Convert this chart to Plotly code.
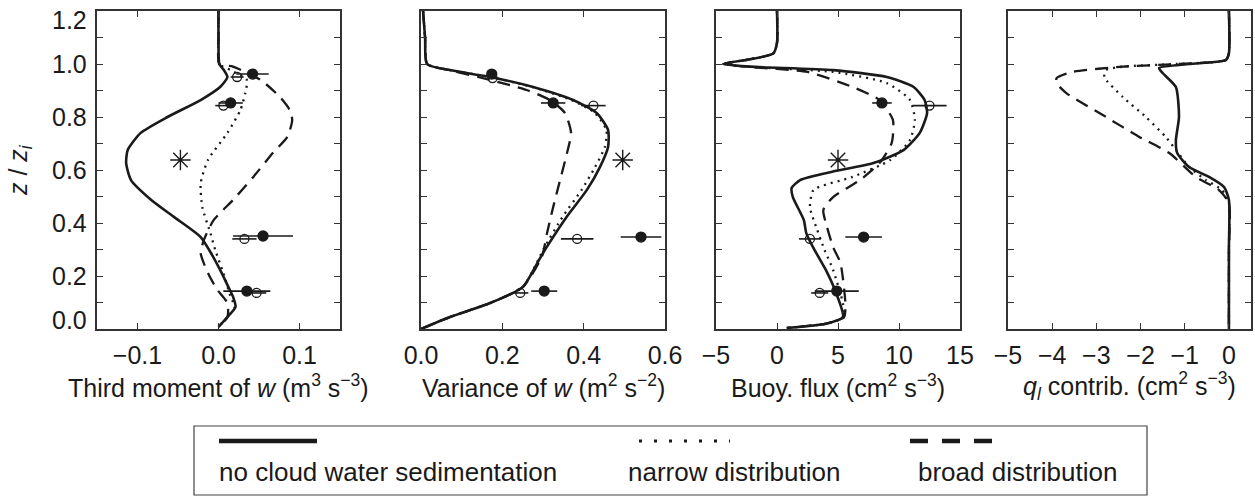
import plotly.graph_objects as go

# ---------------- data ----------------
# Panel 1: third moment of w (m3 s-3)
tm_solid_z = [1.2, 1.1, 1.0, 0.98, 0.951, 0.913, 0.864, 0.80, 0.74, 0.676, 0.626, 0.562, 0.487, 0.423, 0.347, 0.28, 0.223, 0.16, 0.121, 0.083, 0.045, 0.008]
tm_solid_x = [0.0, 0.0, 0.001, 0.006, 0.011, 0.002, -0.022, -0.063, -0.096, -0.112, -0.114, -0.108, -0.083, -0.055, -0.022, -0.008, 0.002, 0.012, 0.018, 0.021, 0.011, 0.0]
tm_dot_z = [1.2, 1.1, 1.0, 0.977, 0.94, 0.89, 0.826, 0.74, 0.638, 0.55, 0.46, 0.362, 0.298, 0.211, 0.121, 0.083, 0.045, 0.008]
tm_dot_x = [0.0, 0.0, 0.001, 0.015, 0.035, 0.033, 0.027, 0.011, -0.013, -0.022, -0.02, -0.01, -0.004, 0.006, 0.015, 0.02, 0.011, 0.0]
tm_dash_z = [1.2, 1.1, 1.0, 0.99, 0.94, 0.875, 0.826, 0.789, 0.725, 0.664, 0.574, 0.487, 0.411, 0.336, 0.286, 0.211, 0.15, 0.098, 0.045, 0.008]
tm_dash_x = [0.0, 0.0, 0.001, 0.018, 0.052, 0.076, 0.088, 0.091, 0.085, 0.067, 0.043, 0.018, -0.006, -0.018, -0.022, -0.013, -0.002, 0.011, 0.011, 0.0]
tm_obs_filled_z = [0.962, 0.853, 0.351, 0.143]
tm_obs_filled_x = [0.042, 0.015, 0.055, 0.035]
tm_obs_filled_err = [0.02, 0.015, 0.037, 0.029]
tm_obs_open_z = [0.951, 0.843, 0.34, 0.136]
tm_obs_open_x = [0.023, 0.006, 0.032, 0.047]
tm_obs_open_err = [0.008, 0.01, 0.015, 0.012]
tm_star_z = [0.638]
tm_star_x = [-0.047]

# Panel 2: variance of w (m2 s-2)
var_solid_z = [1.2, 1.1, 1.0, 0.977, 0.951, 0.913, 0.864, 0.815, 0.751, 0.687, 0.611, 0.525, 0.423, 0.309, 0.26, 0.158, 0.098, 0.045, 0.0]
var_solid_x = [0.005, 0.01, 0.015, 0.071, 0.17, 0.276, 0.374, 0.432, 0.46, 0.46, 0.44, 0.408, 0.358, 0.309, 0.29, 0.25, 0.17, 0.071, 0.0]
var_dot_z = [1.2, 1.1, 1.0, 0.977, 0.951, 0.913, 0.864, 0.815, 0.751, 0.687, 0.611, 0.525, 0.423, 0.309, 0.26, 0.158, 0.098, 0.045, 0.0]
var_dot_x = [0.005, 0.01, 0.015, 0.071, 0.17, 0.274, 0.37, 0.428, 0.456, 0.452, 0.428, 0.395, 0.348, 0.304, 0.288, 0.25, 0.17, 0.071, 0.0]
var_dash_z = [1.2, 1.1, 1.0, 0.977, 0.94, 0.902, 0.864, 0.815, 0.74, 0.664, 0.562, 0.46, 0.362, 0.272, 0.158, 0.098, 0.045, 0.0]
var_dash_x = [0.005, 0.01, 0.015, 0.07, 0.17, 0.26, 0.317, 0.354, 0.369, 0.359, 0.342, 0.325, 0.31, 0.297, 0.25, 0.17, 0.071, 0.0]
var_obs_filled_z = [0.962, 0.853, 0.347, 0.143]
var_obs_filled_x = [0.174, 0.325, 0.541, 0.303]
var_obs_filled_err = [0.0, 0.03, 0.05, 0.032]
var_obs_open_z = [0.947, 0.843, 0.34, 0.136]
var_obs_open_x = [0.176, 0.424, 0.384, 0.244]
var_obs_open_err = [0.0, 0.03, 0.04, 0.02]
var_star_z = [0.638]
var_star_x = [0.496]

# Panel 3: buoyancy flux (cm2 s-3)
bf_solid_z = [1.2, 1.08, 1.04, 1.018, 1.0, 0.99, 0.977, 0.951, 0.913, 0.864, 0.815, 0.74, 0.676, 0.626, 0.594, 0.562, 0.532, 0.498, 0.411, 0.362, 0.309, 0.272, 0.223, 0.147, 0.045, 0.02, 0.004]
bf_solid_x = [0.0, 0.0, -0.3, -2.2, -4.4, -2.2, 4.6, 9.0, 11.2, 12.1, 12.3, 11.7, 10.4, 7.9, 4.6, 1.9, 1.2, 1.3, 2.2, 2.4, 2.95, 3.4, 4.0, 4.75, 5.4, 4.0, 0.8]
bf_dot_z = [1.2, 1.08, 1.04, 1.018, 1.0, 0.99, 0.97, 0.928, 0.864, 0.789, 0.713, 0.638, 0.574, 0.525, 0.46, 0.374, 0.298, 0.223, 0.098, 0.045, 0.02, 0.004]
bf_dot_x = [0.0, 0.0, -0.3, -2.2, -4.4, -2.5, 4.6, 9.0, 10.9, 11.3, 10.9, 9.3, 6.2, 3.0, 2.7, 3.3, 3.9, 4.6, 5.4, 5.5, 4.0, 0.8]
bf_dash_z = [1.2, 1.08, 1.04, 1.018, 1.0, 0.99, 0.97, 0.913, 0.864, 0.789, 0.702, 0.626, 0.562, 0.498, 0.449, 0.385, 0.309, 0.249, 0.098, 0.045, 0.02, 0.004]
bf_dash_x = [0.0, 0.0, -0.3, -2.2, -4.4, -2.6, 2.5, 6.2, 8.4, 9.5, 9.4, 8.4, 6.8, 4.6, 3.8, 4.1, 4.6, 5.2, 5.6, 5.5, 4.0, 0.8]
bf_obs_filled_z = [0.853, 0.347, 0.143]
bf_obs_filled_x = [8.6, 7.1, 4.9]
bf_obs_filled_err = [0.8, 1.5, 1.8]
bf_obs_open_z = [0.843, 0.34, 0.136]
bf_obs_open_x = [12.5, 2.7, 3.5]
bf_obs_open_err = [1.4, 0.9, 0.7]
bf_star_z = [0.638]
bf_star_x = [5.0]

# Panel 4: q_l contribution (cm2 s-3)
ql_solid_z = [1.2, 1.04, 1.015, 1.0, 0.985, 0.966, 0.913, 0.8, 0.713, 0.664, 0.611, 0.574, 0.536, 0.487, 0.3, 0.0]
ql_solid_x = [0.0, 0.0, -0.07, -0.9, -1.58, -1.5, -1.2, -1.13, -1.2, -1.17, -0.9, -0.45, -0.11, 0.0, 0.0, 0.0]
ql_dot_z = [1.2, 1.04, 1.015, 1.0, 0.99, 0.977, 0.951, 0.875, 0.8, 0.725, 0.676, 0.611, 0.562, 0.525, 0.475, 0.3, 0.0]
ql_dot_x = [0.0, 0.0, -0.07, -1.2, -2.4, -2.78, -2.82, -2.4, -1.88, -1.43, -1.2, -0.9, -0.52, -0.16, 0.0, 0.0, 0.0]
ql_dash_z = [1.2, 1.04, 1.015, 1.0, 0.99, 0.97, 0.947, 0.928, 0.89, 0.8, 0.725, 0.664, 0.574, 0.525, 0.475, 0.3, 0.0]
ql_dash_x = [0.0, 0.0, -0.07, -1.2, -2.4, -3.55, -3.9, -3.9, -3.68, -2.78, -2.03, -1.35, -0.75, -0.23, 0.0, 0.0, 0.0]

legend_labels = ["no cloud water sedimentation", "narrow distribution", "broad distribution"]
x_titles = ["Third moment of <i>w</i> (m<sup>3</sup> s<sup>−3</sup>)",
            "Variance of <i>w</i> (m<sup>2</sup> s<sup>−2</sup>)",
            "Buoy. flux (cm<sup>2</sup> s<sup>−3</sup>)",
            "<i>q<sub>l</sub></i> contrib. (cm<sup>2</sup> s<sup>−3</sup>)"]
y_title = "<i>z</i> / <i>z<sub>i</sub></i>"
y_tickvals = [0.0, 0.2, 0.4, 0.6, 0.8, 1.0, 1.2]
y_ticktext = ["0.0", "0.2", "0.4", "0.6", "0.8", "1.0", "1.2"]
x_tickvals = [[-0.1, 0.0, 0.1], [0.0, 0.2, 0.4, 0.6], [-5, 0, 5, 10, 15], [-5, -4, -3, -2, -1, 0]]
x_ticktext = [["−0.1", "0.0", "0.1"], ["0.0", "0.2", "0.4", "0.6"], ["−5", "0", "5", "10", "15"],
              ["−5", "−4", "−3", "−2", "−1", "0"]]
x_ranges = [[-0.15, 0.15], [0.0, 0.6], [-5, 15], [-5, 0.5]]

# ---------------- styling ----------------
W, H = 1255, 496
INK = "#1a1a1a"
AXC = "#333333"
FONT = "Liberation Sans, Arial, sans-serif"
FS = 25
domains_px = [(97, 340), (421, 665), (716, 960), (1008, 1251)]
Y_TOP, Y_BOT = 11, 329

def px(x):
    return x / W

def py(y):
    return 1 - y / H

y_dom = [py(Y_BOT), py(Y_TOP)]
axes_ids = ["", "2", "3", "4"]

fig = go.Figure()

def line(xs, zs, style, i):
    dash = {"solid": "solid", "dot": "2px,5px", "dash": "13px,8px"}[style]
    width = {"solid": 2.6, "dot": 2.3, "dash": 2.3}[style]
    fig.add_trace(go.Scatter(x=xs, y=zs, mode="lines", xaxis="x" + axes_ids[i], yaxis="y" + axes_ids[i],
                             line=dict(color=INK, width=width, dash=dash, shape="spline", smoothing=0.6),
                             showlegend=False, hoverinfo="skip"))

def obs(xs, zs, err, filled, i):
    fig.add_trace(go.Scatter(x=xs, y=zs, mode="markers", xaxis="x" + axes_ids[i], yaxis="y" + axes_ids[i],
                             error_x=dict(type="data", array=err, visible=True, color=INK, thickness=1.6, width=0),
                             marker=dict(symbol="circle" if filled else "circle-open", size=10 if filled else 9,
                                         color=INK, line=dict(color=INK, width=1.3)),
                             showlegend=False, hoverinfo="skip"))

def star(xs, zs, i):
    fig.add_trace(go.Scatter(x=xs, y=zs, mode="markers", xaxis="x" + axes_ids[i], yaxis="y" + axes_ids[i],
                             marker=dict(symbol="asterisk-open", size=17, color=INK, line=dict(color=INK, width=1.4)),
                             showlegend=False, hoverinfo="skip"))

panels = [
    ((tm_solid_x, tm_solid_z), (tm_dot_x, tm_dot_z), (tm_dash_x, tm_dash_z),
     (tm_obs_filled_x, tm_obs_filled_z, tm_obs_filled_err), (tm_obs_open_x, tm_obs_open_z, tm_obs_open_err), (tm_star_x, tm_star_z)),
    ((var_solid_x, var_solid_z), (var_dot_x, var_dot_z), (var_dash_x, var_dash_z),
     (var_obs_filled_x, var_obs_filled_z, var_obs_filled_err), (var_obs_open_x, var_obs_open_z, var_obs_open_err), (var_star_x, var_star_z)),
    ((bf_solid_x, bf_solid_z), (bf_dot_x, bf_dot_z), (bf_dash_x, bf_dash_z),
     (bf_obs_filled_x, bf_obs_filled_z, bf_obs_filled_err), (bf_obs_open_x, bf_obs_open_z, bf_obs_open_err), (bf_star_x, bf_star_z)),
    ((ql_solid_x, ql_solid_z), (ql_dot_x, ql_dot_z), (ql_dash_x, ql_dash_z), None, None, None),
]

for i, (solid, dot, dash, filled, opn, st) in enumerate(panels):
    line(*dash, "dash", i)
    line(*dot, "dot", i)
    line(*solid, "solid", i)
    if opn:
        obs(*opn, False, i)
    if filled:
        obs(*filled, True, i)
    if st:
        star(*st, i)

axis_common = dict(showline=True, linecolor=AXC, linewidth=1.5, mirror="ticks",
                   ticks="inside", ticklen=6, tickwidth=1.2, tickcolor=AXC,
                   showgrid=False, zeroline=False, automargin=False,
                   tickfont=dict(family=FONT, size=FS, color=INK))

layout = dict(width=W, height=H, margin=dict(l=0, r=0, t=0, b=0, pad=0),
              paper_bgcolor="white", plot_bgcolor="white",
              font=dict(family=FONT, color=INK), showlegend=False)

for i in range(4):
    sid = axes_ids[i]
    d0, d1 = domains_px[i]
    layout["xaxis" + sid] = dict(axis_common, domain=[px(d0), px(d1)], range=x_ranges[i],
                                 tickmode="array", tickvals=x_tickvals[i], ticktext=x_ticktext[i],
                                 ticklabelstandoff=3, anchor="y" + sid)
    layout["yaxis" + sid] = dict(axis_common, domain=y_dom, range=[0, 1.2],
                                 tickmode="array", tickvals=y_tickvals, ticktext=y_ticktext,
                                 showticklabels=False,
                                 minor=dict(dtick=0.1, tick0=0, ticks="inside", ticklen=6, tickcolor=AXC, tickwidth=1.2),
                                 anchor="x" + sid)
fig.update_layout(**layout)

# y tick labels of the first panel (end labels nudged inward as in the original)
for v, t in zip(y_tickvals, y_ticktext):
    shift = -9 if v == y_tickvals[-1] else (9 if v == y_tickvals[0] else 0)
    fig.add_annotation(xref="paper", yref="y", x=px(89), y=v, text=t, showarrow=False,
                       xanchor="right", yanchor="middle", yshift=shift,
                       font=dict(family=FONT, size=FS, color=INK))

# axis titles
for i in range(4):
    d0, d1 = domains_px[i]
    fig.add_annotation(xref="paper", yref="paper", x=px((d0 + d1) / 2), y=py(386), text=x_titles[i],
                       showarrow=False, xanchor="center", yanchor="middle",
                       font=dict(family=FONT, size=FS, color=INK))
fig.add_annotation(xref="paper", yref="paper", x=px(20), y=py((Y_TOP + Y_BOT) / 2), text=y_title,
                   showarrow=False, textangle=-90, xanchor="center", yanchor="middle",
                   font=dict(family=FONT, size=FS, color=INK))

# ---------------- legend box ----------------
fig.add_shape(type="rect", xref="paper", yref="paper", x0=px(194), x1=px(1147), y0=py(495), y1=py(426),
              line=dict(color="#444", width=1.2), fillcolor="rgba(0,0,0,0)")
leg_lines = [("solid", 219, 317, 4.5), ("3px,12px", 639, 730, 3.0), ("18px,14px", 910, 993, 4.5)]
leg_text_x = [219, 628, 918]
for (dash, a, b, w), lab, tx in zip(leg_lines, legend_labels, leg_text_x):
    fig.add_shape(type="line", xref="paper", yref="paper", x0=px(a), x1=px(b), y0=py(441), y1=py(441),
                  line=dict(color=INK, width=w, dash=dash))
    fig.add_annotation(xref="paper", yref="paper", x=px(tx), y=py(472), text=lab, showarrow=False,
                       xanchor="left", yanchor="middle", xshift=-2,
                       font=dict(family=FONT, size=26, color=INK))

fig.write_html("out.html")
